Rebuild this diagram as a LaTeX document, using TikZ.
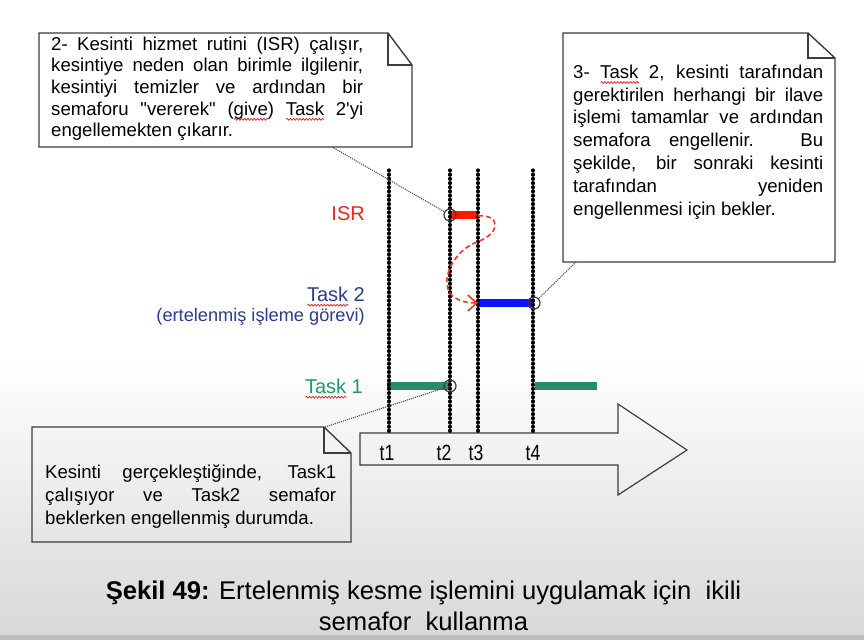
\documentclass[tikz,border=0pt]{standalone}
\usepackage{fontspec}
\setmainfont{Liberation Sans}
\usepackage{graphicx}
\usetikzlibrary{arrows.meta,decorations.pathmorphing}
\definecolor{boxline}{RGB}{60,60,60}
\definecolor{isrred}{RGB}{230,40,30}
\definecolor{barred}{RGB}{255,25,0}
\definecolor{curvered}{RGB}{240,55,40}
\definecolor{t2blue}{RGB}{45,60,140}
\definecolor{barblue}{RGB}{10,20,255}
\definecolor{t1green}{RGB}{30,155,110}
\definecolor{bargreen}{RGB}{40,140,105}
\definecolor{bgbottom}{RGB}{216,216,216}
\definecolor{stripgray}{RGB}{188,188,188}
\definecolor{spellred}{RGB}{225,45,45}
\definecolor{leadergray}{RGB}{80,80,80}
\newdimen\spellwd
\newsavebox\spellbox
\newcommand\spellwave[1]{\sbox\spellbox{#1}\spellwd=\wd\spellbox\relax
  \rlap{\tikz[x=1pt,y=1pt,baseline=0pt]\draw[spellred,line width=0.8pt,decorate,decoration={snake,amplitude=0.9pt,segment length=3.2pt}] (0pt,-4.2pt) -- (\spellwd,-4.2pt);}\usebox\spellbox}
\tikzset{
  notebox/.style={draw=boxline, line width=1.4pt, line join=miter},
  boxtext/.style={anchor=base west, inner sep=0pt, font=\fontsize{18.6}{22}\selectfont},
  lbl/.style={anchor=base east, inner sep=0pt, font=\fontsize{20}{24}\selectfont},
  timeline/.style={line width=3.2pt, dash pattern=on 0.9pt off 3.3pt, line cap=round},
  tbar/.style={line width=8.3pt},
  marker/.style={circle, draw=boxline, line width=1.2pt, minimum size=12pt, inner sep=0pt},
  leaderline/.style={draw=leadergray, line width=1.1pt, densely dotted},
  tlabel/.style={anchor=base, inner sep=0pt, font=\fontsize{22}{24}\selectfont},
  captext/.style={anchor=base, inner sep=0pt, font=\fontsize{25.6}{30}\selectfont},
  redcurve/.style={draw=curvered, line width=1.6pt, dash pattern=on 5pt off 3pt}
}
\begin{document}
\begin{tikzpicture}[x=1pt,y=-1pt]
\useasboundingbox (0,0) rectangle (864,640);
% background
\fill[white] (0,0) rectangle (864,360);
\shade[top color=white, bottom color=bgbottom] (0,360) rectangle (864,635);
\fill[stripgray] (0,635) rectangle (864,640);

% note box 1
\draw[notebox] (39,33) -- (388,33) -- (412,65) -- (412,147) -- (39,147) -- cycle;
\draw[notebox] (388,33) -- (388,65) -- (412,65);
\foreach \txt [count=\i] in {{2- Kesinti hizmet rutini (ISR) çalışır,},{kesintiye neden olan birimle ilgilenir,},{kesintiyi temizler ve ardından bir},{semaforu \textquotedbl vererek\textquotedbl{} (\spellwave{give}) \spellwave{Task} 2\textquotesingle yi}}
  \node[boxtext] (bA\i) at (51,{50+21.7*(\i-1)}) {\makebox[312pt][s]{\txt}};
\node[boxtext] (bA5) at (51,136.8) {engellemekten çıkarır.};

% note box 3
\draw[notebox] (563,33) -- (808,33) -- (835,58) -- (835,262) -- (563,262) -- cycle;
\draw[notebox] (808,33) -- (808,58) -- (835,58);
\foreach \txt [count=\i] in {{3- \spellwave{Task} 2, kesinti tarafından},{gerektirilen herhangi bir ilave},{işlemi tamamlar ve ardından},{semafora engellenir. Bu},{şekilde, bir sonraki kesinti},{tarafından yeniden}}
  \node[boxtext] (bC\i) at (573,{78.3+22.8*(\i-1)}) {\makebox[250pt][s]{\txt}};
\node[boxtext] (bC7) at (573,215) {engellenmesi için bekler.};

% note box bottom
\draw[notebox] (32,427) -- (324,427) -- (351,453) -- (351,542) -- (32,542) -- cycle;
\draw[notebox] (324,427) -- (324,453) -- (351,453);
\foreach \txt [count=\i] in {{Kesinti gerçekleştiğinde, Task1},{çalışıyor ve Task2 semafor}}
  \node[boxtext] (bB\i) at (45,{478+23*(\i-1)}) {\makebox[291pt][s]{\txt}};
\node[boxtext] (bB3) at (45,524) {beklerken engellenmiş durumda.};

% row labels
\node[lbl, text=isrred] (lISR) at (365,220) {ISR};
\node[lbl, text=t2blue] (lT2) at (365,301) {\spellwave{Task} 2};
\node[lbl, text=t2blue, font=\fontsize{18.2}{22}\selectfont] (lT2b) at (365,321.7) {(ertelenmiş işleme görevi)};
\node[lbl, text=t1green] (lT1) at (363,393) {\spellwave{Task} 1};

% bars
\draw[tbar, barred] (450,215) -- (478,215);
\draw[tbar, barblue] (478,303) -- (534,303);
\draw[tbar, bargreen] (387,386) -- (450,386);
\draw[tbar, bargreen] (535,386) -- (597,386);

% time arrow
\draw[notebox, line width=1.2pt] (360,433) -- (618,433) -- (618,404) -- (687,450) -- (618,495) -- (618,465) -- (360,465) -- cycle;

% time lines
\foreach \x in {389,450,478,533}
  \draw[timeline] (\x,170) -- (\x,433);

% time labels
\node[tlabel] (t1) at (387,460) {\scalebox{0.8}[1]{t1}};
\node[tlabel] (t2) at (444,460) {\scalebox{0.8}[1]{t2}};
\node[tlabel] (t3) at (476,460) {\scalebox{0.8}[1]{t3}};
\node[tlabel] (t4) at (533,460) {\scalebox{0.8}[1]{t4}};

% markers
\node[marker] (cISR) at (450,215) {};
\node[marker] (cT2) at (534,303) {};
\node[marker] (cT1) at (450,386) {};

% red dashed curve
\coordinate (isrEnd) at (478,216);
\coordinate (t2Start) at (478,303);
\draw[redcurve, -{Straight Barb[length=9pt,width=16pt,line width=1.6pt]}] (isrEnd) .. controls (500,214) and (502,233) .. (477,242) .. controls (455,250) and (440,278) .. (450,293) .. controls (455,300) and (465,303) .. (t2Start);

% leaders
\coordinate (l1) at (332,147);
\coordinate (l2) at (576,262);
\coordinate (l3) at (325,427);
\draw[leaderline] (l1) -- (cISR);
\draw[leaderline] (l2) -- (cT2);
\draw[leaderline] (l3) -- (cT1);

% caption
\node[captext] (cap1) at (423.5,599) {{\bfseries Şekil 49:} Ertelenmiş kesme işlemini uygulamak için \ ikili};
\node[captext] (cap2) at (423.5,630) {semafor \ kullanma};
\end{tikzpicture}
\end{document}
